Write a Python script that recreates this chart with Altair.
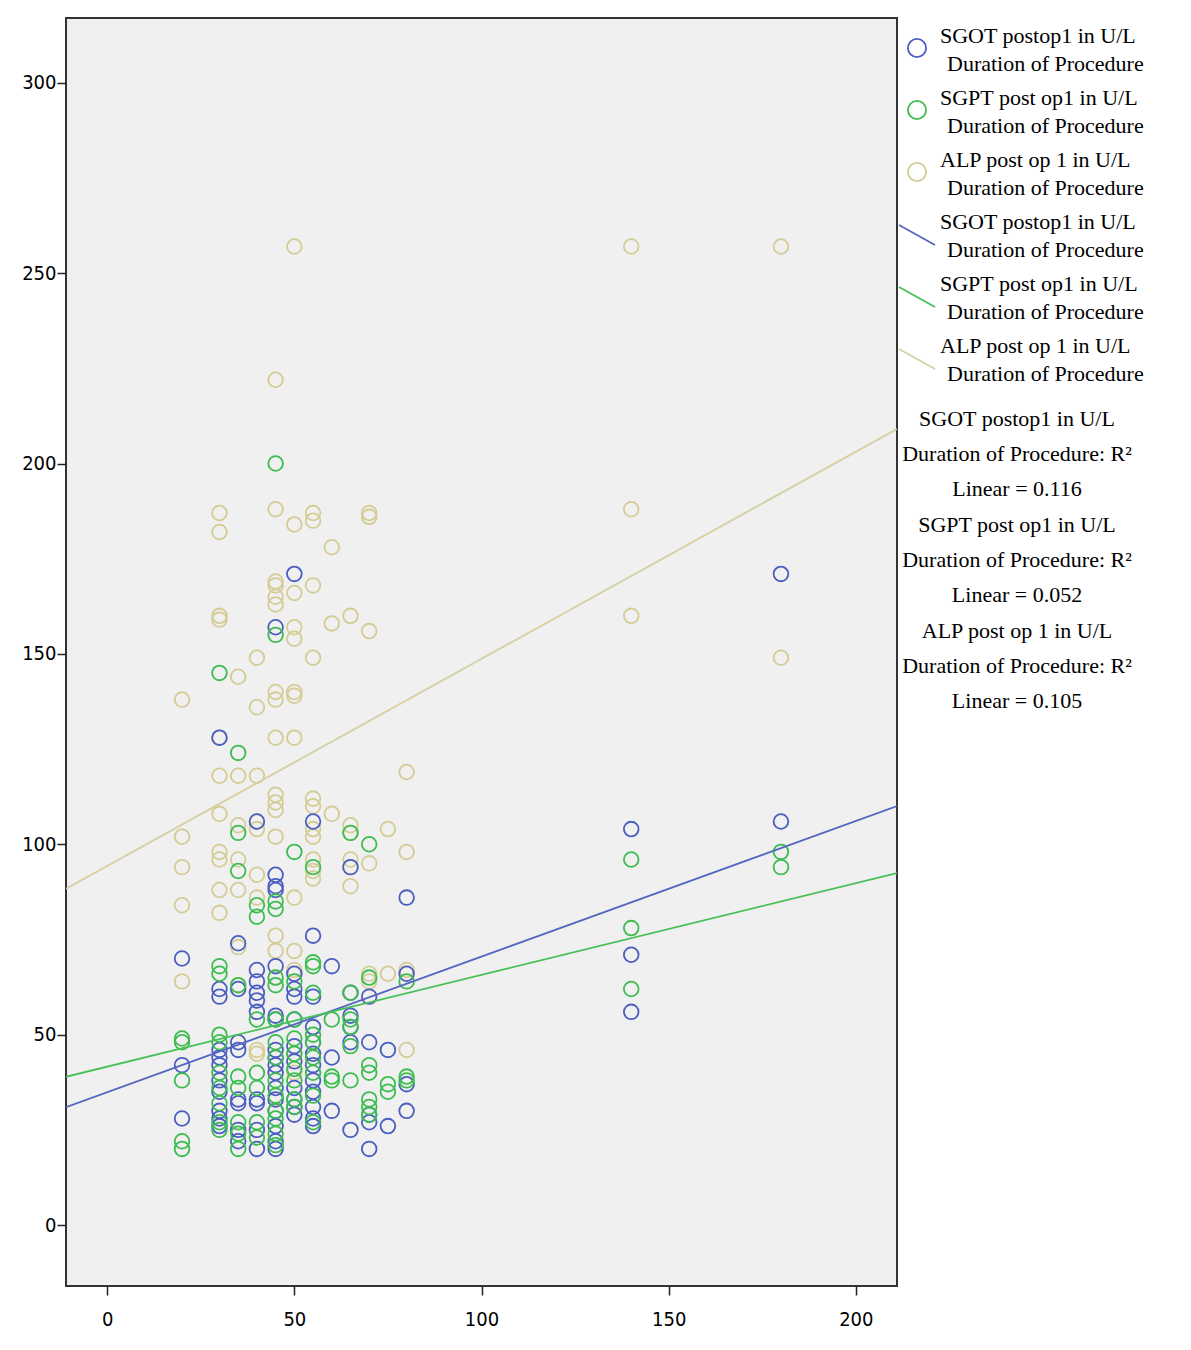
import altair as alt
import pandas as pd

# ---- data ----
durations = [20, 30, 35, 40, 45, 50, 55, 60, 65, 70, 75, 80, 140, 180]

sgot_values = [
    [70, 42, 28],
    [128, 62, 60, 46, 44, 42, 38, 35, 30, 28, 26],
    [74, 62, 48, 46, 33, 32, 25, 22],
    [106, 67, 64, 61, 59, 56, 33, 32, 25, 20],
    [157, 92, 89, 88, 68, 55, 54, 46, 44, 42, 40, 36, 33, 30, 26, 22, 20],
    [171, 66, 62, 60, 54, 47, 43, 36, 33, 31, 29],
    [106, 76, 60, 52, 48, 45, 42, 38, 35, 31, 28, 26],
    [68, 44, 30],
    [94, 61, 55, 52, 48, 25],
    [60, 48, 29, 27, 20],
    [46, 26],
    [86, 66, 37, 30],
    [104, 71, 56],
    [171, 106],
]
sgpt_values = [
    [49, 48, 38, 22, 20],
    [145, 68, 66, 50, 48, 40, 36, 32, 27, 25],
    [124, 103, 93, 63, 39, 36, 27, 24, 20],
    [84, 81, 54, 40, 36, 27, 23],
    [200, 155, 85, 83, 65, 63, 54, 48, 44, 38, 34, 30, 28, 24, 21],
    [98, 64, 54, 49, 45, 41, 38, 33, 31],
    [94, 69, 68, 61, 50, 48, 44, 40, 34, 27],
    [54, 39, 38],
    [103, 61, 54, 52, 47, 38],
    [100, 65, 42, 40, 33, 31, 29],
    [37, 35],
    [64, 39, 38],
    [96, 78, 62],
    [98, 94],
]
alp_values = [
    [138, 102, 94, 84, 64],
    [187, 182, 160, 159, 128, 118, 108, 98, 96, 88, 82],
    [144, 118, 105, 96, 88, 73, 63],
    [149, 136, 118, 106, 104, 92, 86, 46, 45],
    [222, 188, 169, 168, 165, 163, 140, 138, 128, 113, 111, 109, 102, 76, 72, 65],
    [257, 184, 166, 157, 154, 140, 139, 128, 86, 72, 67, 45, 40],
    [187, 185, 168, 149, 112, 110, 104, 102, 96, 93, 91],
    [178, 158, 108],
    [160, 105, 103, 96, 94, 89],
    [187, 186, 156, 95, 66, 64],
    [104, 66],
    [119, 98, 67, 46],
    [257, 188, 160],
    [257, 149],
]

series_names = ["SGOT", "SGPT", "ALP"]
series_colors = ["#4a5ec0", "#3dbd50", "#d4cc94"]
line_colors = ["#5466c0", "#47c058", "#d6cfa0"]

# fitted linear lines (intercept, slope)
fit_intercepts = [34.9, 41.6, 94.3]
fit_slopes = [0.356, 0.241, 0.544]
x_domain = [-11, 211]
y_domain = [-16, 317]

legend_labels = [
    ("SGOT postop1 in U/L", "Duration of Procedure"),
    ("SGPT post op1 in U/L", "Duration of Procedure"),
    ("ALP post op 1 in U/L", "Duration of Procedure"),
]
r2_values = ["0.116", "0.052", "0.105"]

# ---- build tables ----
rows = []
for name, table in zip(series_names, [sgot_values, sgpt_values, alp_values]):
    for d, vals in zip(durations, table):
        for v in vals:
            rows.append({"series": name, "duration": d, "value": v})
points = pd.DataFrame(rows)

line_rows = []
for name, a, b in zip(series_names, fit_intercepts, fit_slopes):
    for xv in x_domain:
        line_rows.append({"series": name, "duration": xv, "value": a + b * xv})
lines = pd.DataFrame(line_rows)

xs = alt.Scale(domain=x_domain, nice=False, zero=False)
ys = alt.Scale(domain=y_domain, nice=False, zero=False)
color = alt.Scale(domain=series_names, range=series_colors)
lcolor = alt.Scale(domain=series_names, range=line_colors)

base_x = alt.X("duration:Q", scale=xs, title=None,
               axis=alt.Axis(values=[0, 50, 100, 150, 200], labelPadding=14))
base_y = alt.Y("value:Q", scale=ys, title=None,
               axis=alt.Axis(values=[0, 50, 100, 150, 200, 250, 300], labelPadding=1))

layers = []
for name in ["ALP", "SGOT", "SGPT"]:
    layers.append(
        alt.Chart(points[points.series == name]).mark_point(
            shape="circle", filled=False, size=215, strokeWidth=1.8, opacity=1
        ).encode(x=base_x, y=base_y,
                 color=alt.Color("series:N", scale=color, legend=None))
    )

fit = alt.Chart(lines).mark_line(strokeWidth=1.8, clip=True).encode(
    x=base_x, y=base_y,
    color=alt.Color("series:N", scale=lcolor, legend=None),
    detail="series:N",
)
layers.append(fit)

# ---- hand-made legend (SPSS style), placed right of the plot ----
FONT = "Liberation Serif"
FS = 22
leg_rows = []
sym_rows = []
seg_rows = []
for i, (l1, l2) in enumerate(legend_labels):
    top = 18 + i * 62
    leg_rows.append({"t": l1, "x": 874, "y": top})
    leg_rows.append({"t": l2, "x": 881, "y": top + 28})
    sym_rows.append({"series": series_names[i], "x": 851, "y": top + 12})
for i, (l1, l2) in enumerate(legend_labels):
    top = 204 + i * 62
    leg_rows.append({"t": l1, "x": 874, "y": top})
    leg_rows.append({"t": l2, "x": 881, "y": top + 28})
    seg_rows.append({"series": series_names[i], "x": 833, "x2": 869,
                     "y": top + 3, "y2": top + 23})
leg_df = pd.DataFrame(leg_rows)
sym_df = pd.DataFrame(sym_rows)
seg_df = pd.DataFrame(seg_rows)

r2_rows = []
for i, (l1, _) in enumerate(legend_labels):
    top = 401 + i * 106
    r2_rows.append({"t": l1, "y": top})
    r2_rows.append({"t": "Duration of Procedure: R²", "y": top + 35})
    r2_rows.append({"t": "Linear = " + r2_values[i], "y": top + 70})
r2_df = pd.DataFrame(r2_rows)

leg_text = alt.Chart(leg_df).mark_text(
    align="left", baseline="middle", font=FONT, fontSize=FS, color="#000"
).encode(x=alt.X("x:Q", scale=None), y=alt.Y("y:Q", scale=None), text="t:N")

leg_sym = alt.Chart(sym_df).mark_point(
    shape="circle", filled=False, size=330, strokeWidth=1.8, opacity=1
).encode(x=alt.X("x:Q", scale=None), y=alt.Y("y:Q", scale=None),
         color=alt.Color("series:N", scale=color, legend=None))

leg_seg = alt.Chart(seg_df).mark_rule(strokeWidth=1.8).encode(
    x=alt.X("x:Q", scale=None), x2="x2:Q",
    y=alt.Y("y:Q", scale=None), y2="y2:Q",
    color=alt.Color("series:N", scale=lcolor, legend=None))

r2_text = alt.Chart(r2_df).mark_text(
    align="center", baseline="middle", font=FONT, fontSize=FS, color="#000"
).encode(x=alt.value(951), y=alt.Y("y:Q", scale=None), text="t:N")

chart = alt.layer(*layers, leg_seg, leg_sym, leg_text, r2_text).resolve_scale(
    color="independent"
).properties(
    width=831, height=1268,
    background="#ffffff",
    autosize=alt.AutoSizeParams(type="none"),
    padding={"left": 58, "top": 10, "right": 286, "bottom": 56},
).configure_view(
    fill="#f0f0f0", stroke="#333333", strokeWidth=2
).configure_axis(
    grid=False, domain=False, tickColor="#222222", tickSize=9, tickWidth=1.5,
    labelFont="DejaVu Sans Condensed", labelFontSize=20, labelColor="#000000",
)

chart.save("out.html", embed_options={"renderer": "svg", "actions": False})
